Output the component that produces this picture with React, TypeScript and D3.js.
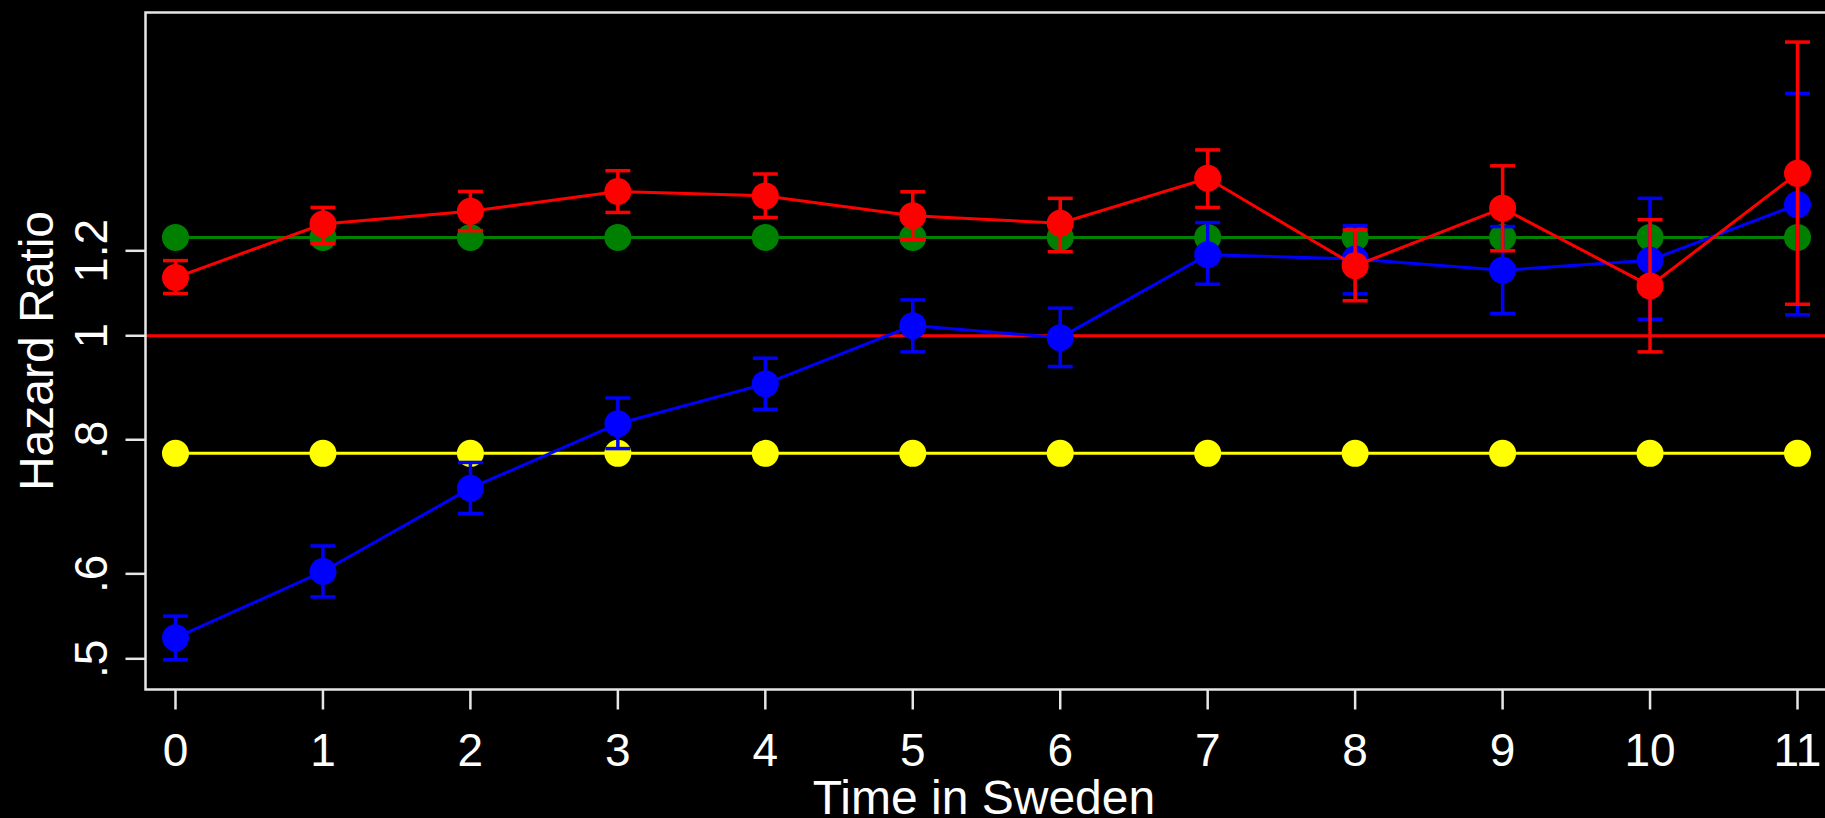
import React, { useEffect } from "react";
import * as d3 from "d3";

const years = [0, 1, 2, 3, 4, 5, 6, 7, 8, 9, 10, 11];
const blueHR = [0.523, 0.603, 0.721, 0.828, 0.902, 1.022, 0.996, 1.19, 1.179, 1.151, 1.176, 1.325];
const blueLo = [0.499, 0.571, 0.683, 0.785, 0.854, 0.966, 0.936, 1.117, 1.094, 1.049, 1.036, 1.046];
const blueHi = [0.548, 0.637, 0.762, 0.875, 0.953, 1.08, 1.061, 1.275, 1.266, 1.264, 1.343, 1.682];
const redHR = [1.133, 1.271, 1.306, 1.363, 1.35, 1.294, 1.273, 1.402, 1.162, 1.315, 1.113, 1.417];
const redLo = [1.095, 1.219, 1.253, 1.303, 1.289, 1.23, 1.198, 1.317, 1.078, 1.2, 0.966, 1.07];
const redHi = [1.175, 1.317, 1.363, 1.425, 1.415, 1.362, 1.343, 1.49, 1.255, 1.44, 1.283, 1.878];
const greenHR = [1.235, 1.235, 1.235, 1.235, 1.235, 1.235, 1.235, 1.235, 1.235, 1.235, 1.235, 1.235];
const yellowHR = [0.777, 0.777, 0.777, 0.777, 0.777, 0.777, 0.777, 0.777, 0.777, 0.777, 0.777, 0.777];
const yTicks = [0.5, 0.6, 0.8, 1, 1.2];
const yTickLabels = [".5", ".6", ".8", "1", "1.2"];
const refValue = 1;

const W = 1825;
const H = 818;
const FONT = "'Liberation Sans', Arial, sans-serif";

export default function App() {
  useEffect(() => {
    document.body.style.margin = "0";
    document.body.style.overflow = "hidden";
    document.body.style.background = "#000";
  }, []);

  const x = d3.scaleLinear().domain([0, 11]).range([175.5, 1797.5]);
  const y = d3.scaleLog().domain([0.5, 1.2]).range([658.8, 250.8]);

  const left = 145.5;
  const top = 12.5;
  const bottom = 689.5;

  const line = d3
    .line<[number, number]>()
    .x((d) => x(d[0]))
    .y((d) => y(d[1]));

  const cap = 12.5;
  const r = 13.5;

  const series = [
    { vals: yellowHR, color: "#FFFF00" },
    { vals: greenHR, color: "#008000" },
    { vals: blueHR, color: "#0000FF", lo: blueLo, hi: blueHi },
    { vals: redHR, color: "#FF0000", lo: redLo, hi: redHi },
  ];

  return (
    <svg
      width={W}
      height={H}
      style={{ position: "absolute", left: 0, top: 0, background: "#000" }}
    >
      <rect x={0} y={0} width={W} height={H} fill="#000" />
      {/* reference line */}
      <line
        x1={left}
        x2={W + 10}
        y1={y(refValue)}
        y2={y(refValue)}
        stroke="#FF0000"
        strokeWidth={3}
      />
      {series.map((s, si) => (
        <g key={si}>
          <path
            d={line(years.map((t, i) => [t, s.vals[i]]) as [number, number][]) || ""}
            fill="none"
            stroke={s.color}
            strokeWidth={3}
          />
          {s.lo &&
            years.map((t, i) => (
              <g key={"e" + i} stroke={s.color} strokeWidth={3.5}>
                <line x1={x(t)} x2={x(t)} y1={y(s.lo![i])} y2={y(s.hi![i])} />
                <line x1={x(t) - cap} x2={x(t) + cap} y1={y(s.lo![i])} y2={y(s.lo![i])} />
                <line x1={x(t) - cap} x2={x(t) + cap} y1={y(s.hi![i])} y2={y(s.hi![i])} />
              </g>
            ))}
          {years.map((t, i) => (
            <circle key={"c" + i} cx={x(t)} cy={y(s.vals[i])} r={r} fill={s.color} />
          ))}
        </g>
      ))}
      {/* box (right side out of view) */}
      <path
        d={`M${W + 20},${top} H${left} V${bottom} H${W + 20}`}
        fill="none"
        stroke="#e6e6e6"
        strokeWidth={2.5}
      />
      {/* y ticks */}
      {yTicks.map((v, i) => (
        <g key={"yt" + i}>
          <line x1={left - 20} x2={left} y1={y(v)} y2={y(v)} stroke="#e6e6e6" strokeWidth={2.5} />
          <text
            transform={`translate(${107},${y(v)}) rotate(-90)`}
            textAnchor="middle"
            fill="#fff"
            fontFamily={FONT}
            fontSize={46}
          >
            {yTickLabels[i]}
          </text>
        </g>
      ))}
      {/* x ticks */}
      {years.map((t) => (
        <g key={"xt" + t}>
          <line x1={x(t)} x2={x(t)} y1={bottom} y2={bottom + 20} stroke="#e6e6e6" strokeWidth={2.5} />
          <text
            x={x(t)}
            y={766}
            textAnchor="middle"
            fill="#fff"
            fontFamily={FONT}
            fontSize={46}
          >
            {String(t)}
          </text>
        </g>
      ))}
      <text
        x={984}
        y={814}
        textAnchor="middle"
        fill="#fff"
        fontFamily={FONT}
        fontSize={48}
      >
        Time in Sweden
      </text>
      <text
        transform={`translate(${53},${351}) rotate(-90)`}
        textAnchor="middle"
        fill="#fff"
        fontFamily={FONT}
        fontSize={48}
      >
        Hazard Ratio
      </text>
    </svg>
  );
}
